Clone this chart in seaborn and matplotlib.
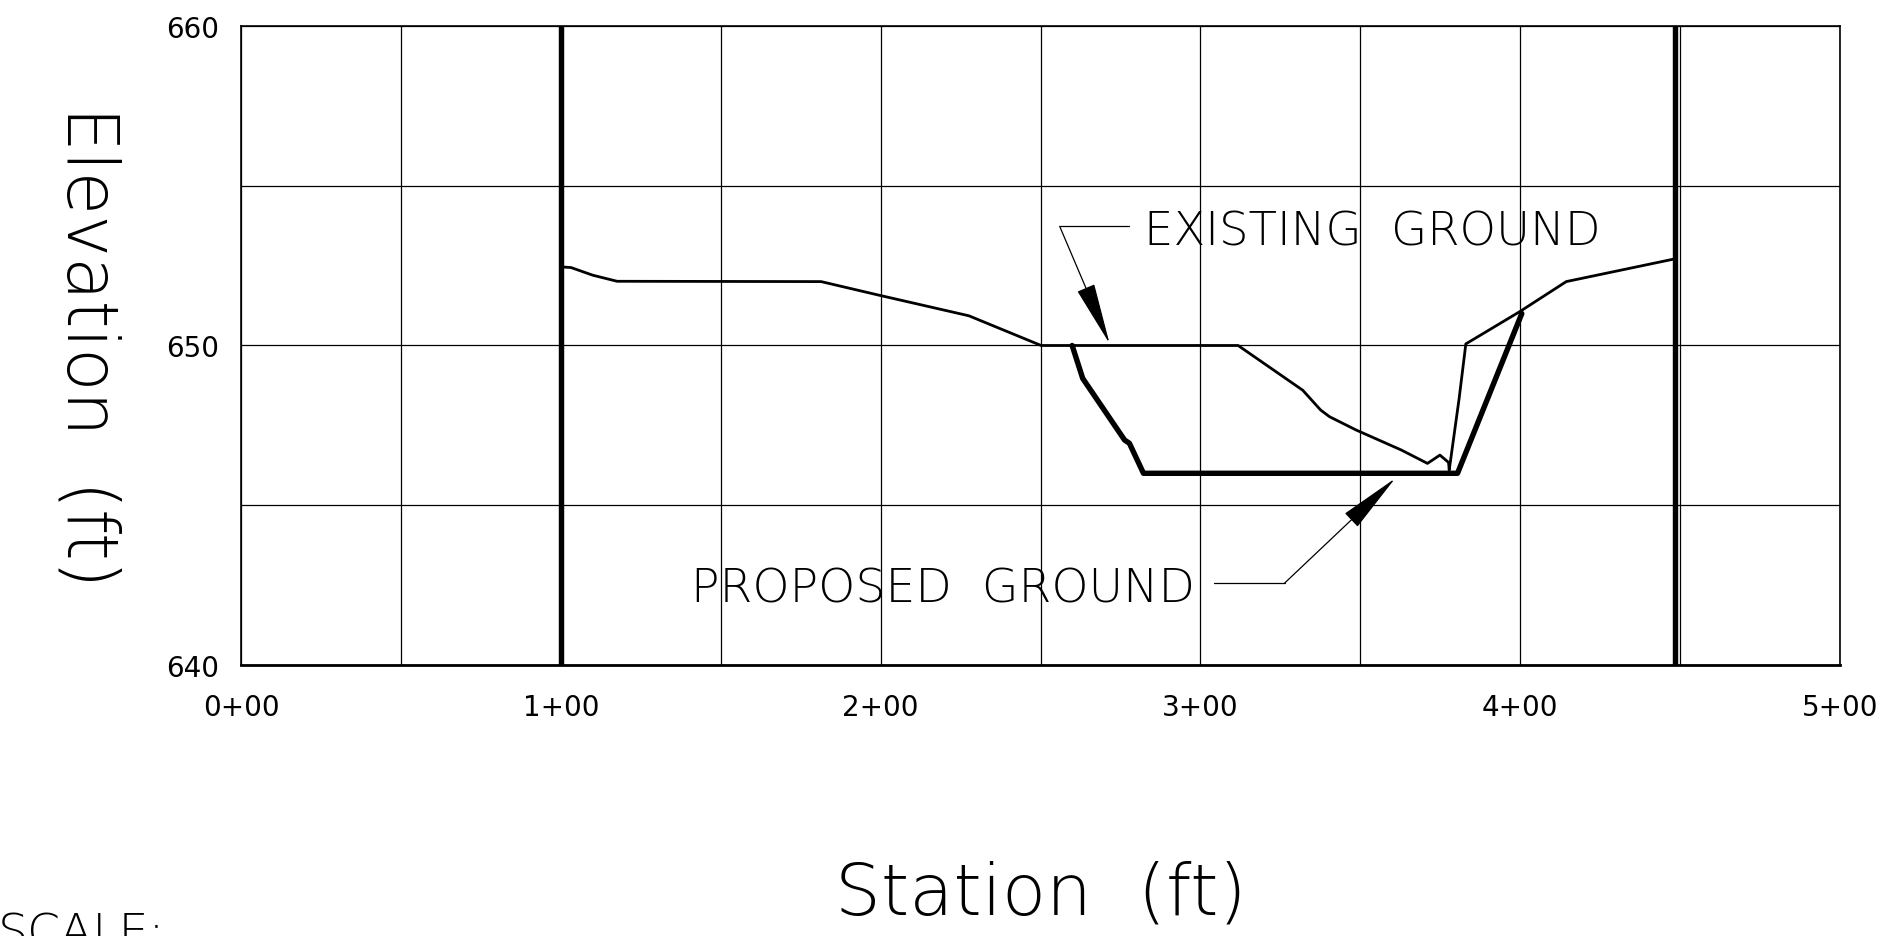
import pandas as pd
import matplotlib.pyplot as plt
import seaborn as sns

# cross-section data (station ft, elevation ft)
existing_sta = [100.2, 103.2, 110.0, 117.6, 181.4, 199.7, 227.6, 250.2, 311.8,
                332.0, 337.6, 340.4, 348.8, 362.8, 371.0, 374.9, 377.6, 377.8,
                380.9, 383.0, 399.7, 414.4, 447.8]
existing_elev = [652.46, 652.44, 652.2, 652.01, 652.0, 651.57, 650.93, 650.0, 650.0,
                 648.6, 647.98, 647.77, 647.35, 646.73, 646.31, 646.57, 646.34, 646.1,
                 648.34, 650.05, 651.05, 652.0, 652.7]

proposed_sta = [259.9, 263.2, 276.3, 277.8, 282.2, 380.4, 400.5]
proposed_elev = [650.0, 648.97, 647.04, 646.94, 646.0, 646.0, 651.0]

limit_sta = [100, 448.5]
x_ticks = [0, 100, 200, 300, 400, 500]
x_tick_labels = ["0+00", "1+00", "2+00", "3+00", "4+00", "5+00"]
y_ticks = [640, 650, 660]

existing = pd.DataFrame({"station": existing_sta, "elev": existing_elev})
proposed = pd.DataFrame({"station": proposed_sta, "elev": proposed_elev})

sns.set_style("white")
plt.rcParams["font.family"] = ["DejaVu Sans"]
plt.rcParams["text.color"] = "black"
plt.rcParams["axes.labelcolor"] = "black"
plt.rcParams["xtick.color"] = "black"
plt.rcParams["ytick.color"] = "black"

thin = 200  # CAD-style thin lettering

fig = plt.figure(figsize=(18.96, 9.37), dpi=100)
ax = fig.add_axes([241 / 1896, 1 - 666 / 937, 1599 / 1896, 639 / 937])

for s in limit_sta:
    ax.axvline(s, color="black", lw=3.9, zorder=3)

sns.lineplot(data=existing, x="station", y="elev", sort=False, estimator=None,
             color="black", lw=2.0, ax=ax, zorder=4)
sns.lineplot(data=proposed, x="station", y="elev", sort=False, estimator=None,
             color="black", lw=3.9, ax=ax, zorder=5)

ax.set_xlim(0, 500)
ax.set_ylim(640, 660)
ax.set_xticks(x_ticks)
ax.set_xticklabels(x_tick_labels)
ax.set_xticks([50, 150, 250, 350, 450], minor=True)
ax.set_yticks(y_ticks)
ax.set_yticks([645, 655], minor=True)
ax.grid(True, which="both", color="black", lw=0.9)
ax.set_axisbelow(True)
ax.tick_params(axis="both", which="both", length=0, labelsize=20)
ax.tick_params(axis="y", pad=16)
ax.tick_params(axis="x", pad=20)
for sp in ax.spines.values():
    sp.set_color("black")
    sp.set_linewidth(1.2)
ax.spines["bottom"].set_linewidth(2.0)

ax.set_xlabel("Station  (ft)", fontsize=52, fontweight=thin)
ax.set_ylabel("Elevation  (ft)", fontsize=51, rotation=270, fontweight=thin)
ax.xaxis.set_label_coords(0.5, -0.358)
ax.xaxis.label.set_va("center")
ax.yaxis.set_label_coords(-0.096, 0.5)
ax.yaxis.label.set_va("center")

# callouts
ax.text(282.5, 653.17, "EXISTING  GROUND", fontsize=33.5, va="baseline",
        ha="left", fontweight=thin)
ax.plot([256.0, 277.7], [653.73, 653.73], color="black", lw=0.9)
ax.annotate("", xy=(271.6, 650.06), xytext=(256.0, 653.73),
            arrowprops=dict(arrowstyle="-|>,head_length=2.0,head_width=0.3",
                            color="black", lw=0.9, shrinkA=0, shrinkB=0,
                            mutation_scale=20))

ax.text(140.6, 642.0, "PROPOSED  GROUND", fontsize=34, va="baseline",
        ha="left", fontweight=thin)
ax.plot([304.4, 326.3], [642.56, 642.56], color="black", lw=0.9)
ax.annotate("", xy=(360.9, 645.84), xytext=(326.3, 642.56),
            arrowprops=dict(arrowstyle="-|>,head_length=2.0,head_width=0.3",
                            color="black", lw=0.9, shrinkA=0, shrinkB=0,
                            mutation_scale=20))

fig.text(-0.001, 1 - 913 / 937, "SCALE:", fontsize=34, va="top", ha="left",
         fontweight=thin)

fig.savefig("out.png", dpi=100)
